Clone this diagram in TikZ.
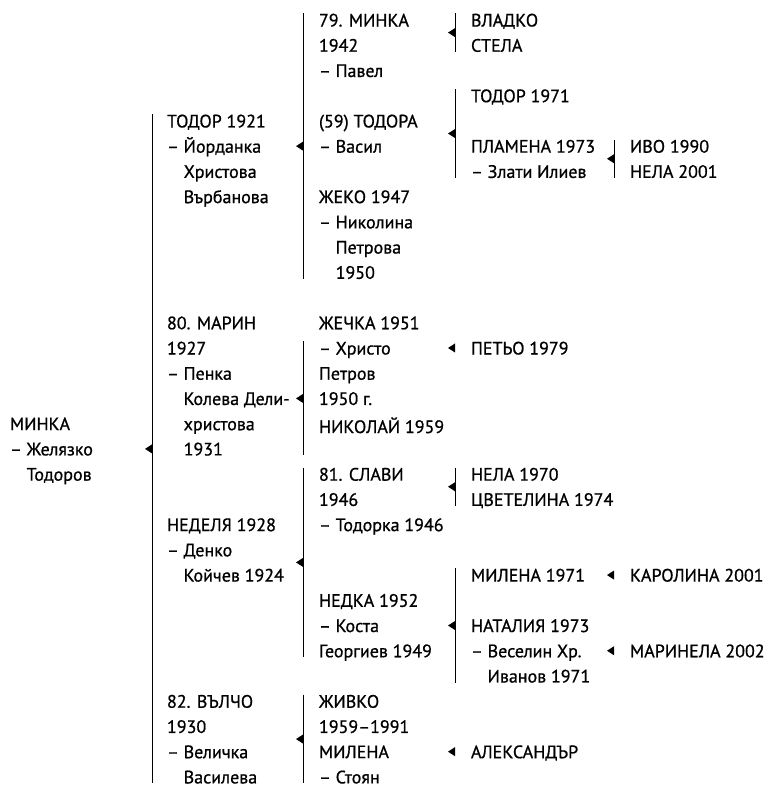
\documentclass[tikz,border=0pt]{standalone}
\usepackage{fontspec}
\setmainfont{PT Sans}[FakeBold=0.8]
\usetikzlibrary{calc}
\tikzset{
  ime/.style={anchor=north west,inner sep=0pt,outer sep=0pt,align=left,yshift=6.3pt},
  skoba/.style={line width=1pt},
}
\newcommand\ind{\hphantom{– }}
% left-pointing tip whose base sits on the bracket
\newcommand\strelka[1]{\fill (#1) ++(0,4.5pt) -- ++(-7pt,-4.5pt) -- ++(7pt,-4.5pt) -- cycle;}

\begin{document}
\begin{tikzpicture}[x=1pt,y=-25.23pt,font=\fontsize{18}{25.23}\selectfont]
  \useasboundingbox (0,-0.7927) rectangle (768,30.48);
  % first generation
  \node[ime] (minka) at (10,16) {МИНКА\\– Желязко\\\ind Тодоров};
  % children
  \node[ime] (todor) at (167,4) {ТОДОР 1921\\– Йорданка\\\ind Христова\\\ind Върбанова};
  \node[ime] (marin) at (167,12) {80. МАРИН\\1927\\– Пенка\\\ind Колева Дели-\\\ind христова\\\ind 1931};
  \node[ime] (nedelya) at (167,20) {НЕДЕЛЯ 1928\\– Денко\\\ind Койчев 1924};
  \node[ime] (valcho) at (167,27) {82. ВЪЛЧО\\1930\\– Величка\\\ind Василева};
  % grandchildren
  \node[ime] (minka2) at (319,0) {79. МИНКА\\1942\\– Павел};
  \node[ime] (todora) at (319,4) {(59) ТОДОРА\\– Васил};
  \node[ime] (zheko) at (319,7) {ЖЕКО 1947\\– Николина\\\ind Петрова\\\ind 1950};
  \node[ime] (zhechka) at (319,12) {ЖЕЧКА 1951\\– Христо\\Петров\\1950 г.};
  \node[ime] (nikolay) at (319,16) {НИКОЛАЙ 1959};
  \node[ime] (slavi) at (319,18) {81. СЛАВИ\\1946\\– Тодорка 1946};
  \node[ime] (nedka) at (319,23) {НЕДКА 1952\\– Коста\\Георгиев 1949};
  \node[ime] (zhivko) at (319,27) {ЖИВКО\\1959–1991};
  \node[ime] (milena2) at (319,29) {МИЛЕНА\\– Стоян};
  % great-grandchildren
  \node[ime] (vladko) at (471,0) {ВЛАДКО};
  \node[ime] (stela) at (471,1) {СТЕЛА};
  \node[ime] (todor3) at (471,3) {ТОДОР 1971};
  \node[ime] (plamena) at (471,5) {ПЛАМЕНА 1973\\– Злати Илиев};
  \node[ime] (petyo) at (471,13) {ПЕТЬО 1979};
  \node[ime] (nela) at (471,18) {НЕЛА 1970};
  \node[ime] (tsvetelina) at (471,19) {ЦВЕТЕЛИНА 1974};
  \node[ime] (milena3) at (471,22) {МИЛЕНА 1971};
  \node[ime] (nataliya) at (471,24) {НАТАЛИЯ 1973\\– Веселин Хр.\\\ind Иванов 1971};
  \node[ime] (aleksandar) at (471,29) {АЛЕКСАНДЪР};
  \node[ime] (ivo) at (630,5) {ИВО 1990};
  \node[ime] (nela4) at (630,6) {НЕЛА 2001};
  \node[ime] (karolina) at (630,22) {КАРОЛИНА 2001};
  \node[ime] (marinela) at (630,25) {МАРИНЕЛА 2002};
  % brackets with arrow in the middle
  \foreach \nm/\xx/\tp/\bt in {b0/152/4/30, b1/303/0/10, b2/303/13/17,
      b3/303/18/25, b4/303/27/30, b5/455/0/1, b6/455/3/6, b7/614/5/6,
      b8/455/18/19, b9/455/22/26}{
    \coordinate (\nm-t) at (\xx,\tp-0.26);
    \coordinate (\nm-b) at (\xx,\bt+0.26);
    \coordinate (\nm-m) at ($(\nm-t)!0.5!(\nm-b)$);
    \draw[skoba] (\nm-t) -- (\nm-b);
    \strelka{\nm-m}
  }
  % single child
  \coordinate (a1) at (455,13);
  \coordinate (a2) at (614,22);
  \coordinate (a3) at (614,25);
  \coordinate (a4) at (455,29);
  \foreach \a in {a1,a2,a3,a4}{\strelka{\a}}
\end{tikzpicture}
\end{document}
